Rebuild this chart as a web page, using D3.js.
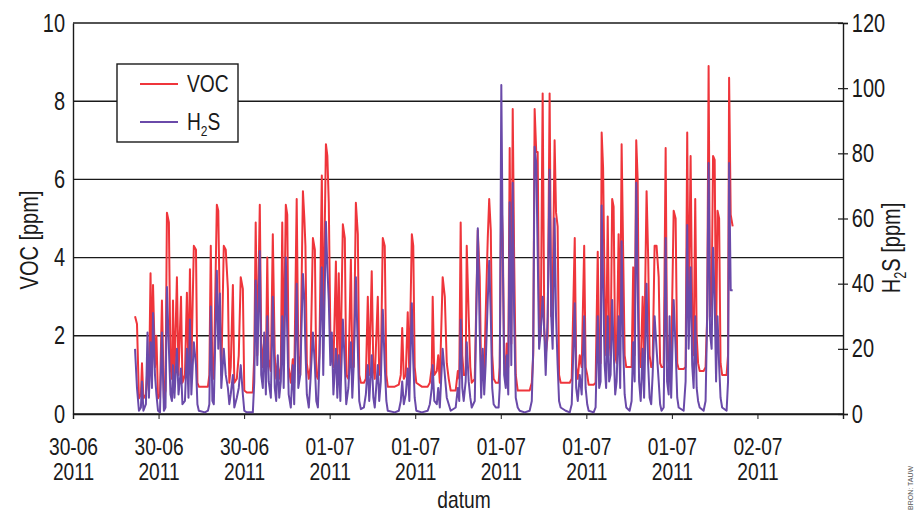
<!DOCTYPE html>
<html>
<head>
<meta charset="utf-8">
<script src="https://cdnjs.cloudflare.com/ajax/libs/d3/7.8.5/d3.min.js"></script>
<style>
  body { margin: 0; background: #fff; }
  text { font-family: "Liberation Sans", Arial, sans-serif; fill: #1a1a1a; }
</style>
</head>
<body>
<script>
const hours = [
  13.08,13.19,13.30,13.41,13.47,13.55,13.69,13.78,13.86,13.95,14.03,14.09,14.20,14.28,14.37,14.48,14.59,14.70,14.79,14.87,
  14.98,15.07,15.15,15.21,15.29,15.43,15.52,15.66,15.74,15.88,15.99,16.08,16.16,16.24,16.38,16.50,16.58,16.66,17.00,17.17,
  17.25,17.33,17.42,17.50,17.67,17.75,17.84,17.92,18.06,18.17,18.29,18.37,18.45,18.57,18.65,18.79,18.90,19.01,19.13,19.21,19.35,19.69,
  19.77,19.85,19.94,20.08,20.16,20.25,20.33,20.42,20.50,20.58,20.70,20.81,20.92,21.00,21.09,21.17,21.26,21.34,21.42,21.54,
  21.62,21.70,21.82,21.93,22.01,22.15,22.24,22.35,22.50,22.58,22.64,22.72,22.83,22.92,23.06,23.17,23.25,23.34,
  23.42,23.56,23.64,23.79,23.87,23.95,24.04,24.12,24.21,24.35,24.43,24.51,24.60,24.74,24.85,24.93,25.05,25.19,25.27,25.35,25.47,25.58,25.66,25.75,
  25.92,26.03,26.14,26.22,26.36,26.45,26.53,26.70,26.78,26.87,26.98,27.09,27.18,27.26,27.65,27.88,27.99,28.07,28.16,28.27,28.38,28.47,28.61,28.69,28.77,28.86,29.17,29.50,29.62,
  29.73,29.78,29.87,30.01,30.09,30.18,30.34,30.46,30.57,30.68,30.79,31.07,31.19,31.27,31.35,31.44,31.52,31.63,31.69,31.80,
  31.89,31.97,32.14,32.31,32.42,32.50,32.59,32.67,32.75,32.87,32.95,33.04,33.12,33.20,33.32,33.48,
  33.54,33.63,33.71,33.79,33.88,33.93,34.02,34.10,34.19,34.27,34.35,34.44,34.55,34.66,34.94,35.22,35.34,35.42,35.50,35.59,
  35.67,35.75,35.84,35.95,36.04,36.12,36.23,36.34,36.43,36.51,36.62,36.70,36.79,36.87,36.96,
  37.24,37.47,37.58,37.75,37.83,37.92,38.03,38.14,38.28,38.36,38.45,38.53,38.81,38.92,
  39.04,39.12,39.20,39.26,39.34,39.43,39.51,39.60,39.68,39.76,39.85,39.93,40.02,40.10,40.21,40.30,40.38,40.47,40.55,40.64,
  40.83,40.94,41.03,41.11,41.20,41.28,41.36,41.45,41.56,41.64,41.78,41.87,41.95,42.04,42.12,42.23,42.34,42.46,42.54,42.62,
  42.74,42.85,42.93,43.02,43.07,43.16,43.30,43.41,43.50,43.58,43.86,43.97,44.06,44.14,44.25,44.34,44.42,44.51,44.59,44.67,44.76,
  44.98,45.09,45.18,45.26,45.34,45.43,45.51,45.60,45.68,45.76,45.85,45.93,46.02,46.27,46.35,46.41,46.50,46.61
];

// VOC [ppm]
const voc = [
  2.5,2.3,0.4,0.5,1.3,0.4,0.5,1.2,0.6,3.6,1.0,3.3,1.2,2.0,0.4,0.5,2.9,0.4,0.6,5.15,
  4.9,1.2,0.9,2.9,0.9,3.5,1.0,3.0,0.8,1.0,3.1,1.0,3.7,1.2,4.3,4.2,0.8,0.7,0.7,0.7,
  1.0,4.3,1.0,0.9,5.35,5.2,2.5,1.0,4.3,4.2,3.2,0.8,1.2,3.3,0.8,0.9,1.5,3.5,3.2,0.6,0.55,0.55,
  1.5,4.9,1.5,5.35,1.8,1.2,2.0,1.2,4.0,1.4,1.1,4.6,1.5,0.9,1.3,0.9,1.2,4.9,1.3,5.35,
  5.1,1.2,0.8,1.4,0.8,5.5,1.5,1.0,5.7,5.0,4.3,1.3,0.9,1.2,4.5,4.2,1.0,0.9,
  1.5,6.1,2.0,6.9,6.6,5.4,2.0,1.5,1.2,3.9,1.2,3.6,1.0,4.85,4.5,1.0,0.9,3.95,1.2,1.2,5.4,4.6,1.0,0.8,
  0.8,0.9,3.0,1.0,3.65,1.2,0.9,3.0,1.0,1.2,4.5,4.3,1.0,0.7,0.7,0.75,1.0,2.2,0.9,1.0,2.6,1.0,4.6,4.3,1.2,0.8,0.7,0.7,0.8,
  1.2,3.0,1.0,1.1,1.5,0.8,3.5,3.0,1.3,0.9,0.6,0.6,1.1,0.9,4.9,1.5,1.0,1.0,4.3,2.5,
  1.2,0.8,0.9,4.7,3.5,1.0,1.5,1.0,2.5,4.5,5.5,4.7,1.5,0.9,0.8,0.8,
  1.2,5.7,4.5,1.5,1.0,1.8,1.2,6.8,1.8,7.8,4.0,1.0,0.6,0.6,0.6,0.6,0.8,1.5,7.8,6.7,
  6.7,2.5,2.0,8.2,2.2,1.5,2.0,8.2,2.5,3.0,7.0,5.15,4.8,1.0,0.8,
  0.8,0.8,0.9,4.5,1.2,0.9,1.5,1.2,4.3,1.2,1.0,0.75,0.75,0.8,
  4.15,1.3,1.3,7.2,6.3,3.0,1.5,5.05,2.0,1.5,5.5,5.3,1.5,1.3,4.6,2.0,6.9,4.0,1.5,1.2,
  1.2,1.2,3.75,1.5,7.0,6.0,1.5,1.2,3.0,1.3,5.7,4.0,1.5,1.2,1.3,4.3,4.3,3.5,1.3,1.2,
  1.2,6.8,1.5,1.3,2.0,1.3,5.2,5.0,1.3,1.15,1.15,1.2,7.2,2.5,6.6,2.5,1.5,5.5,2.0,1.3,1.1,
  1.1,1.2,2.5,8.9,2.5,3.0,6.6,6.5,1.8,5.2,5.0,1.3,1.0,1.0,1.5,8.6,5.1,4.8
];

// H2S [ppm]
const h2s = [
  20,8,1,2,10,1,3,25,5,22,8,31,12,6,1,0.5,25,1,2,39,
  20,6,4,15,5,20,6,14,3,4,20,5,29,6,22,15,3,1,0.5,1,
  3,33,4,3,44,20,37,8,20,12,8,3,6,12,2,5,8,15,6,1,0.5,0.5,
  10,41,15,50,12,8,25,6,30,10,5,36,8,4,18,5,10,30,8,48,
  25,6,2,15,3,40,8,12,43,35,20,6,2,10,25,15,4,2,
  15,45,12,59,45,35,15,25,6,20,5,18,4,29,15,3,8,22,5,15,42,20,4,1.5,
  2,6,15,4,18,5,2,15,4,10,32,15,4,1,0.5,1,4,10,3,6,14,4,34,16,5,1,0.5,1,3,
  8,15,4,3,8,2,20,12,5,3,1,2,8,4,29,8,4,10,22,10,
  5,2,4,57,25,5,20,6,15,35,47,30,8,3,2,2,
  8,101,50,12,8,18,6,65,15,71,30,5,2,1,0.5,1,4,20,82,77,
  50,20,25,36,25,12,30,75,30,20,60,30,15,4,2,
  1,0.5,3,34,8,4,12,6,30,8,3,1,0.5,2,
  30,8,10,64,40,15,8,30,10,12,35,20,6,10,30,8,53,20,6,2,
  1,4,22,10,71,40,10,4,20,5,40,15,5,3,12,30,20,10,3,1,
  2,54,10,6,30,5,35,20,5,2,1,10,58,20,45,15,8,30,8,4,2,
  1,4,30,77,25,20,51,35,10,30,15,5,2,1,10,77,38,38
];

// x axis: every 0.2 day from 30-06 09:36
const tickHours = [9.6, 14.4, 19.2, 24, 28.8, 33.6, 38.4, 43.2, 48];
const xDomainHours = [9.6, 52.8];
const vocTicks = [0, 2, 4, 6, 8, 10];
const h2sTicks = [0, 20, 40, 60, 80, 100, 120];

const app = {

  width: 916,
  height: 515,
  margin: { top: 23, right: 73, bottom: 101, left: 73 },
  red: "#ef353b",
  purple: "#6a4aa9",
  narrow: 0.8, // squeeze text to look like the condensed face of the print

  init: () => {
    app.setup();
    app.grid();
    app.lines();
    app.axes();
    app.legend();
    app.titles();
  },

  toDate: (h) => new Date(new Date(2011, 5, 30).getTime() + h * 3600000),

  setup: () => {
    const m = app.margin;
    app.svg = d3.select("body").append("svg")
      .attr("width", app.width)
      .attr("height", app.height);
    app.x = d3.scaleTime()
      .domain(xDomainHours.map(app.toDate))
      .range([m.left, app.width - m.right]);
    app.yVoc = d3.scaleLinear().domain([0, 10]).range([app.height - m.bottom, m.top]);
    app.yH2s = d3.scaleLinear().domain([0, 120]).range([app.height - m.bottom, m.top]);
  },

  grid: () => {
    // horizontal lines at the VOC ticks (also top and bottom of the frame)
    const m = app.margin;
    app.svg.append("g")
      .selectAll("line")
      .data(vocTicks)
      .enter()
      .append("line")
      .attr("x1", m.left)
      .attr("x2", app.width - m.right)
      .attr("y1", d => app.yVoc(d))
      .attr("y2", d => app.yVoc(d))
      .style("stroke", "#1a1a1a")
      .style("stroke-width", 1.4);
  },

  lines: () => {
    const line = (vals, y) => d3.line()
      .x((d, i) => app.x(app.toDate(hours[i])))
      .y(d => y(d))(vals);

    app.svg.append("path")
      .attr("d", line(voc, app.yVoc))
      .style("fill", "none")
      .style("stroke", app.red)
      .style("stroke-width", 2)
      .style("stroke-linejoin", "round");

    app.svg.append("path")
      .attr("d", line(h2s, app.yH2s))
      .style("fill", "none")
      .style("stroke", app.purple)
      .style("stroke-width", 2)
      .style("stroke-linejoin", "round");
  },

  axes: () => {
    const m = app.margin;
    const bottom = app.height - m.bottom;
    const sq = `scale(${app.narrow},1)`;

    // left axis
    const left = app.svg.append("g")
      .attr("transform", `translate(${m.left},0)`)
      .call(d3.axisLeft(app.yVoc).tickValues(vocTicks).tickSize(0).tickPadding(10));
    left.select(".domain").style("stroke", "#1a1a1a").style("stroke-width", 1.4);
    left.selectAll("text")
      .attr("font-family", null)
      .attr("transform", sq)
      .style("font-size", "25px");

    // right axis, ticks cross the line
    const right = app.svg.append("g")
      .attr("transform", `translate(${app.width - m.right},0)`)
      .call(d3.axisRight(app.yH2s).tickValues(h2sTicks).tickSize(5).tickPadding(6));
    right.select(".domain").style("stroke", "#1a1a1a").style("stroke-width", 1.4);
    right.selectAll(".tick line").attr("x1", -5).style("stroke", "#1a1a1a").style("stroke-width", 1.2);
    right.selectAll("text")
      .attr("font-family", null)
      .attr("transform", sq)
      .style("font-size", "25px");

    // bottom axis with two line labels
    const xa = app.svg.append("g")
      .attr("transform", `translate(0,${bottom})`)
      .call(d3.axisBottom(app.x).tickValues(tickHours.map(app.toDate)).tickSize(5).tickFormat(""));
    xa.select(".domain").style("stroke", "#1a1a1a").style("stroke-width", 1.4);
    xa.selectAll(".tick line").style("stroke", "#1a1a1a");
    const fDay = d3.timeFormat("%d-%m");
    const fYear = d3.timeFormat("%Y");
    xa.selectAll(".tick").each(function (d) {
      const t = d3.select(this).append("text")
        .attr("text-anchor", "middle")
        .attr("transform", sq)
        .style("font-size", "24px");
      t.append("tspan").attr("x", 0).attr("y", 41).text(fDay(d));
      t.append("tspan").attr("x", 0).attr("y", 66).text(fYear(d));
    });
  },

  legend: () => {
    const g = app.svg.append("g").attr("transform", "translate(117,64)");
    g.append("rect")
      .attr("width", 121)
      .attr("height", 78)
      .style("fill", "#fff")
      .style("stroke", "#1a1a1a")
      .style("stroke-width", 1.4);
    const items = [
      { name: "VOC", color: app.red },
      { name: "H", sub: "2", rest: "S", color: app.purple }
    ];
    items.forEach((d, i) => {
      const y = 20 + i * 38;
      g.append("line")
        .attr("x1", 23).attr("x2", 61)
        .attr("y1", y).attr("y2", y)
        .style("stroke", d.color)
        .style("stroke-width", 2);
      const t = g.append("text")
        .attr("transform", `translate(70,${y + 8}) scale(${app.narrow},1)`)
        .style("font-size", "24px");
      t.append("tspan").text(d.name);
      if (d.sub) {
        t.append("tspan").attr("dy", 6).style("font-size", "15px").text(d.sub);
        t.append("tspan").attr("dy", -6).text(d.rest);
      }
    });
  },

  titles: () => {
    const sq = `scale(${app.narrow},1)`;
    app.svg.append("text")
      .attr("transform", `translate(38,240) rotate(-90) ${sq}`)
      .attr("text-anchor", "middle")
      .style("font-size", "25px")
      .text("VOC [ppm]");

    const r = app.svg.append("text")
      .attr("transform", `translate(900,248) rotate(-90) ${sq}`)
      .attr("text-anchor", "middle")
      .style("font-size", "25px");
    r.append("tspan").text("H");
    r.append("tspan").attr("dy", 6).style("font-size", "16px").text("2");
    r.append("tspan").attr("dy", -6).text("S [ppm]");

    app.svg.append("text")
      .attr("transform", `translate(464,508) ${sq}`)
      .attr("text-anchor", "middle")
      .style("font-size", "24px")
      .text("datum");

    app.svg.append("text")
      .attr("transform", "translate(913,510) rotate(-90)")
      .style("font-size", "7px")
      .style("fill", "#555")
      .text("BRON: TAUW");
  }

};

app.init();
</script>
</body>
</html>
